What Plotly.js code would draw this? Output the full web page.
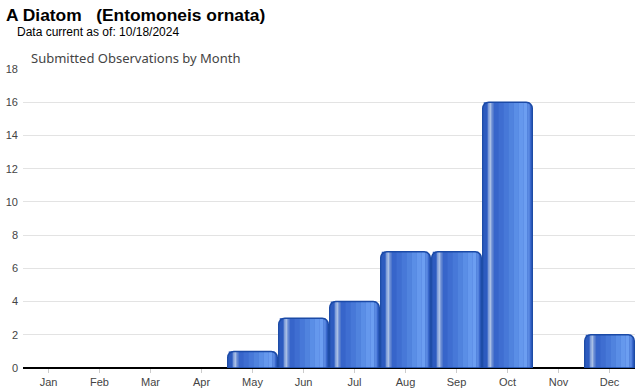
<!DOCTYPE html>
<html>
<head>
<meta charset="utf-8">
<script src="https://cdn.plot.ly/plotly-3.0.1.min.js"></script>
<style>html,body{margin:0;padding:0;background:#fff;}#chart{width:640px;height:390px;}</style>
</head>
<body>
<div id="chart"></div>
<script>
const months = ["Jan","Feb","Mar","Apr","May","Jun","Jul","Aug","Sep","Oct","Nov","Dec"];
const observations = [0,0,0,0,1,3,4,7,7,16,0,2];
const yTicks = [0,2,4,6,8,10,12,14,16,18];

const BW = 0.97;
const L = 23, T = 69, PW = 612, PH = 299;
const shown = observations.map(v => v > 0 ? v : null);
// vertical shading stripes [start fraction, end fraction, color]
const stripes = [
  [0.00,1.00,"#3a68cc"],
  [0.02,0.10,"#2d5bbf"],
  [0.10,0.13,"#7f9cd8"],
  [0.13,0.17,"#a9bfe5"],
  [0.17,0.20,"#8aa5dc"],
  [0.20,0.23,"#4f77cc"],
  [0.23,0.32,"#3765ca"],
  [0.32,0.42,"#3f6ed1"],
  [0.42,0.52,"#4778d8"],
  [0.52,0.62,"#5083de"],
  [0.62,0.72,"#5a8ee6"],
  [0.72,0.82,"#6598ed"],
  [0.82,0.90,"#6c9ef1"],
  [0.90,0.95,"#5a8ae2"]
];
const traces = stripes.map((s,i)=>({
  type:"bar", x:months, y:shown,
  width:BW*(s[1]-s[0]), offset:-BW/2+BW*s[0],
  marker:{color:s[2], line:{width:0}, cornerradius: i===0?6:0},
  hoverinfo:"skip", showlegend:false
}));
traces.push({
  type:"bar", x:months, y:shown, width:BW, offset:-BW/2,
  marker:{color:"rgba(0,0,0,0)", line:{color:"#1b4aa6", width:1.5}, cornerradius:6},
  hoverinfo:"x+y", showlegend:false
});

function px(x){return (x-L)/PW;}
function py(y){return (T+PH-y)/PH;}

const layout = {
  width:640, height:390,
  margin:{l:L, r:640-L-PW, t:T, b:390-T-PH},
  paper_bgcolor:"#fff", plot_bgcolor:"#fff",
  barmode:"overlay",
  font:{family:"Liberation Sans, Arial, sans-serif", color:"#444", size:11},
  xaxis:{type:"category", showgrid:false, showline:false,
    ticks:"outside", ticklen:4, tickcolor:"#ccc", tickfont:{size:11,color:"#444"}, fixedrange:true},
  yaxis:{range:[0,18], tickvals:yTicks, showgrid:true, gridcolor:"#e3e3e3", gridwidth:1,
    zeroline:true, zerolinecolor:"#000", zerolinewidth:2, showline:false,
    ticks:"", ticklabelstandoff:4, tickfont:{size:11,color:"#444"}, fixedrange:true},
  annotations:[
    {xref:"paper", yref:"paper", x:px(4), y:py(15), xanchor:"left", yanchor:"middle", showarrow:false,
     text:"<b>A Diatom\u00a0\u00a0\u00a0(Entomoneis ornata)</b>", font:{size:17.4, color:"#000", family:"Liberation Sans, Arial, sans-serif"}},
    {xref:"paper", yref:"paper", x:px(15), y:py(32), xanchor:"left", yanchor:"middle", showarrow:false,
     text:"Data current as of: 10/18/2024", font:{size:12, color:"#000", family:"Liberation Sans, Arial, sans-serif"}},
    {xref:"paper", yref:"paper", x:px(29), y:py(58), xanchor:"left", yanchor:"middle", showarrow:false,
     text:"Submitted Observations by Month", font:{size:13, color:"#444", family:"Noto Sans, sans-serif"}}
  ]
};
Plotly.newPlot("chart", traces, layout, {displayModeBar:false, staticPlot:true});
</script>
</body>
</html>
